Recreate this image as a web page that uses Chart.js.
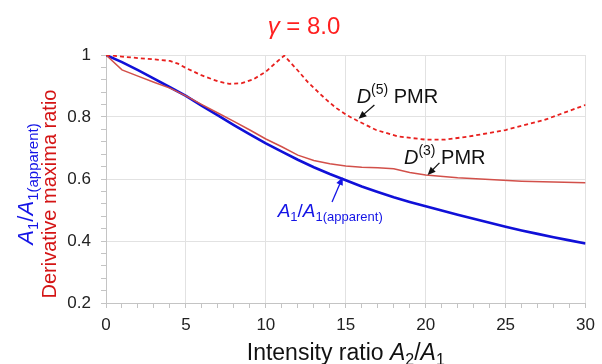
<!DOCTYPE html>
<html>
<head>
<meta charset="utf-8">
<script src="https://cdn.jsdelivr.net/npm/chart.js@4.4.1/dist/chart.umd.min.js"></script>
<style>
  html, body { margin: 0; padding: 0; background: #fff; }
  #wrap { width: 602px; height: 364px; }
</style>
</head>
<body>
<div id="wrap"><canvas id="chart" width="602" height="364"></canvas></div>
<script>
// Intensity ratio A2/A1 (x values)
const ratioX = [0,1,2,3,4,5,6,7,8,9,10,11,12,13,14,15,16,17,18,19,20,21,22,23,24,25,26,27,28,29,30];
// A1/A1(apparent)
const apparentRatio = [1.000,0.977,0.951,0.924,0.896,0.868,0.836,0.805,0.774,0.744,0.715,0.688,0.662,0.638,0.616,0.596,0.576,0.558,0.541,0.526,0.512,0.498,0.485,0.472,0.459,0.446,0.434,0.423,0.412,0.402,0.392];

// D(3) PMR
const d3X = [0,1,2,3,4,5,6,7,8,9,10,11,12,13,14,15,16,17,18,19,20,22,24,26,28,30];
const d3Ratio = [1.000,0.952,0.932,0.912,0.893,0.868,0.840,0.813,0.786,0.758,0.729,0.704,0.677,0.660,0.649,0.642,0.638,0.636,0.633,0.621,0.613,0.604,0.598,0.593,0.590,0.588];

// D(5) PMR
const d5X = [0,1,2,3,4,4.5,5,6,7,7.7,8.5,9.2,10,10.6,11.15,12,12.6,13.2,13.8,14.4,15.06,15.8,16.9,18.3,20,21.2,22.7,25,27.4,30];
const d5Ratio = [1.000,0.995,0.990,0.986,0.981,0.972,0.958,0.934,0.915,0.907,0.909,0.921,0.946,0.974,0.998,0.950,0.914,0.884,0.855,0.829,0.806,0.786,0.758,0.737,0.727,0.727,0.737,0.758,0.790,0.839];

const xTicks = [0, 5, 10, 15, 20, 25, 30];
const yTicks = [0.2, 0.4, 0.6, 0.8, 1];

const FONT = '"Liberation Sans", Arial, sans-serif';

function pts(xs, ys) {
    return xs.map((x, i) => ({ x: x, y: ys[i] }));
}

function isMajor(v, list) {
    return list.some(t => Math.abs(t - v) < 1e-6);
}

// texte avec indices / exposants
function drawRuns(ctx, runs, x, y, align) {
    let total = 0;
    runs.forEach(r => {
        ctx.font = (r.italic ? 'italic ' : '') + r.size + 'px ' + FONT;
        r.w = ctx.measureText(r.t).width;
        total += r.w;
    });
    let cx = align === 'center' ? x - total / 2 : x;
    ctx.textAlign = 'left';
    ctx.textBaseline = 'alphabetic';
    runs.forEach(r => {
        ctx.font = (r.italic ? 'italic ' : '') + r.size + 'px ' + FONT;
        ctx.fillText(r.t, cx, y + (r.dy || 0));
        cx += r.w;
    });
}

function drawArrow(ctx, x1, y1, x2, y2, color) {
    const a = Math.atan2(y2 - y1, x2 - x1);
    const len = 8, half = 3.5;
    ctx.strokeStyle = color;
    ctx.fillStyle = color;
    ctx.lineWidth = 1.3;
    ctx.beginPath();
    ctx.moveTo(x1, y1);
    ctx.lineTo(x2 - Math.cos(a) * len * 0.8, y2 - Math.sin(a) * len * 0.8);
    ctx.stroke();
    ctx.beginPath();
    ctx.moveTo(x2, y2);
    ctx.lineTo(x2 - Math.cos(a) * len + Math.sin(a) * half, y2 - Math.sin(a) * len - Math.cos(a) * half);
    ctx.lineTo(x2 - Math.cos(a) * len - Math.sin(a) * half, y2 - Math.sin(a) * len + Math.cos(a) * half);
    ctx.closePath();
    ctx.fill();
}

// étiquettes placées en unités de données
const labelD5 = { x: 15.68, y: 0.845, ax: 16.79, ay: 0.839, tx: 15.8, ty: 0.794 };
const labelD3 = { x: 18.64, y: 0.648, ax: 20.86, ay: 0.652, tx: 20.12, ty: 0.613 };
const labelA1 = { x: 10.74, y: 0.477, ax: 14.14, ay: 0.526, tx: 14.81, ty: 0.606 };

const textPlugin = {
    id: 'texts',
    afterDraw(chart) {
        const ctx = chart.ctx;
        const xs = chart.scales.x, ys = chart.scales.y;
        const area = chart.chartArea;
        ctx.save();

        // titre
        ctx.fillStyle = '#ff1f1f';
        drawRuns(ctx, [
            { t: 'γ', size: 24, italic: true },
            { t: ' = 8.0', size: 24 }
        ], 304, 34, 'center');

        // titre axe x
        ctx.fillStyle = '#111';
        drawRuns(ctx, [
            { t: 'Intensity ratio ', size: 23 },
            { t: 'A', size: 23, italic: true },
            { t: '2', size: 16, dy: 5 },
            { t: '/', size: 23 },
            { t: 'A', size: 23, italic: true },
            { t: '1', size: 16, dy: 5 }
        ], (area.left + area.right) / 2, 360, 'center');

        // titres axe y (tournés)
        ctx.save();
        ctx.translate(33, 184);
        ctx.rotate(-Math.PI / 2);
        ctx.fillStyle = '#1414e6';
        drawRuns(ctx, [
            { t: 'A', size: 22, italic: true },
            { t: '1', size: 15, dy: 5 },
            { t: '/', size: 22 },
            { t: 'A', size: 22, italic: true },
            { t: '1(apparent)', size: 15, dy: 5 }
        ], 0, 0, 'center');
        ctx.restore();

        ctx.save();
        ctx.translate(56, 194);
        ctx.rotate(-Math.PI / 2);
        ctx.fillStyle = '#d41414';
        drawRuns(ctx, [{ t: 'Derivative maxima ratio', size: 20 }], 0, 0, 'center');
        ctx.restore();

        // annotations
        ctx.fillStyle = '#111';
        drawRuns(ctx, [
            { t: 'D', size: 20, italic: true },
            { t: '(5)', size: 14, dy: -9 },
            { t: ' PMR', size: 20 }
        ], xs.getPixelForValue(labelD5.x), ys.getPixelForValue(labelD5.y), 'left');
        drawArrow(ctx, xs.getPixelForValue(labelD5.ax), ys.getPixelForValue(labelD5.ay),
            xs.getPixelForValue(labelD5.tx), ys.getPixelForValue(labelD5.ty), '#111');

        ctx.fillStyle = '#111';
        drawRuns(ctx, [
            { t: 'D', size: 20, italic: true },
            { t: '(3)', size: 14, dy: -9 },
            { t: ' PMR', size: 20 }
        ], xs.getPixelForValue(labelD3.x), ys.getPixelForValue(labelD3.y), 'left');
        drawArrow(ctx, xs.getPixelForValue(labelD3.ax), ys.getPixelForValue(labelD3.ay),
            xs.getPixelForValue(labelD3.tx), ys.getPixelForValue(labelD3.ty), '#111');

        ctx.fillStyle = '#1414e6';
        drawRuns(ctx, [
            { t: 'A', size: 19, italic: true },
            { t: '1', size: 13, dy: 4 },
            { t: '/', size: 19 },
            { t: 'A', size: 19, italic: true },
            { t: '1(apparent)', size: 13, dy: 4 }
        ], xs.getPixelForValue(labelA1.x), ys.getPixelForValue(labelA1.y), 'left');
        drawArrow(ctx, xs.getPixelForValue(labelA1.ax), ys.getPixelForValue(labelA1.ay),
            xs.getPixelForValue(labelA1.tx), ys.getPixelForValue(labelA1.ty), '#1414e6');

        ctx.restore();
    }
};

new Chart(document.getElementById('chart'), {
    type: 'line',
    data: {
        datasets: [
            {
                label: 'D(5) PMR',
                data: pts(d5X, d5Ratio),
                borderColor: '#e8201e',
                borderWidth: 1.8,
                borderDash: [4, 3],
                pointRadius: 0,
                tension: 0
            },
            {
                label: 'D(3) PMR',
                data: pts(d3X, d3Ratio),
                borderColor: '#d2504a',
                borderWidth: 1.5,
                pointRadius: 0,
                tension: 0
            },
            {
                label: 'A1/A1(apparent)',
                data: pts(ratioX, apparentRatio),
                borderColor: '#1010d8',
                borderWidth: 2.6,
                pointRadius: 0,
                tension: 0
            }
        ]
    },
    options: {
        responsive: false,
        animation: false,
        layout: { padding: { left: 0, right: 10, top: 55, bottom: 0 } },
        plugins: {
            legend: { display: false },
            title: { display: false },
            tooltip: { enabled: false }
        },
        scales: {
            x: {
                type: 'linear',
                min: 0,
                max: 30,
                afterFit(scale) { scale.height = 61; },
                border: { color: '#c4c4c4', width: 1 },
                grid: {
                    color: c => isMajor(c.tick.value, xTicks) ? '#e2e2e2' : 'rgba(0,0,0,0)',
                    tickColor: '#c4c4c4',
                    tickLength: 5
                },
                ticks: {
                    stepSize: 1,
                    autoSkip: false,
                    maxRotation: 0,
                    padding: 7,
                    color: '#222',
                    font: { family: FONT, size: 17 },
                    callback: v => isMajor(v, xTicks) ? String(v) : ''
                }
            },
            y: {
                min: 0.2,
                max: 1,
                afterFit(scale) { scale.width = 106; },
                border: { color: '#c4c4c4', width: 1 },
                grid: {
                    color: c => isMajor(c.tick.value, yTicks) ? '#e2e2e2' : 'rgba(0,0,0,0)',
                    tickColor: '#c4c4c4',
                    tickLength: 5
                },
                ticks: {
                    stepSize: 0.04,
                    autoSkip: false,
                    padding: 10,
                    color: '#222',
                    font: { family: FONT, size: 17 },
                    callback: v => {
                        if (!isMajor(v, yTicks)) return '';
                        return Math.abs(v - 1) < 1e-6 ? '1' : v.toFixed(1);
                    }
                }
            }
        }
    },
    plugins: [textPlugin]
});
</script>
</body>
</html>
